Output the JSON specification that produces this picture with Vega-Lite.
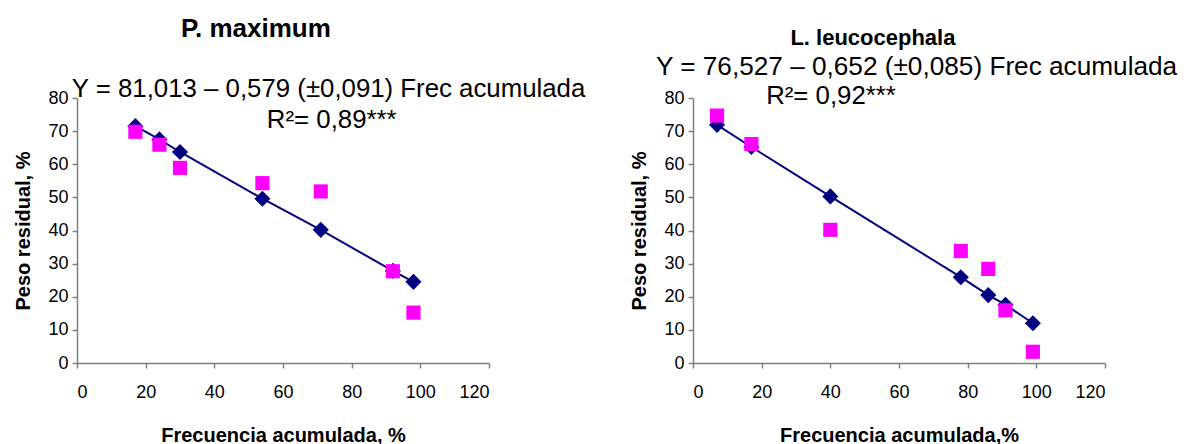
{
  "$schema": "https://vega.github.io/schema/vega-lite/v6.json",
  "background": "white",
  "padding": {"left": 13, "top": 16, "right": 5, "bottom": 5},
  "spacing": 43,
  "config": {
    "view": {"stroke": null},
    "font": "Liberation Sans",
    "axis": {
      "grid": false,
      "domainColor": "#808080",
      "tickColor": "#808080",
      "domainWidth": 1.5,
      "tickWidth": 1.5,
      "labelColor": "#000000",
      "titleColor": "#000000",
      "labelFont": "Liberation Sans",
      "titleFont": "Liberation Sans",
      "labelFontSize": 18,
      "labelFontWeight": "normal",
      "labelOverlap": false,
      "titleFontSize": 20,
      "titleFontWeight": "bold",
      "tickSize": 5,
      "labelPadding": 4
    },
    "text": {"font": "Liberation Sans", "fontWeight": "normal"}
  },
  "datasets": {
    "pmax": [
      {"frec": 17, "ajustado": 71.5, "observado": 69.8},
      {"frec": 24, "ajustado": 67.5, "observado": 65.9},
      {"frec": 30, "ajustado": 63.7, "observado": 58.9},
      {"frec": 54, "ajustado": 49.6, "observado": 54.3},
      {"frec": 71, "ajustado": 40.2, "observado": 51.8},
      {"frec": 92, "ajustado": 27.8, "observado": 27.7},
      {"frec": 98, "ajustado": 24.5, "observado": 15.2}
    ],
    "lleu": [
      {"frec": 7, "ajustado": 71.9, "observado": 74.7},
      {"frec": 17, "ajustado": 65.2, "observado": 66.1},
      {"frec": 40, "ajustado": 50.3, "observado": 40.2},
      {"frec": 78, "ajustado": 25.9, "observado": 33.8},
      {"frec": 86, "ajustado": 20.5, "observado": 28.4},
      {"frec": 91, "ajustado": 17.6, "observado": 15.9},
      {"frec": 99, "ajustado": 12.0, "observado": 3.4}
    ],
    "uno": [{}]
  },
  "hconcat": [
    {
      "width": 412,
      "height": 265,
      "data": {"name": "pmax"},
      "encoding": {
        "x": {"type": "quantitative", "title": "Frecuencia  acumulada, %",
              "scale": {"domain": [0, 120], "nice": false},
              "axis": {"values": [0, 20, 40, 60, 80, 100, 120], "labelPadding": 15, "titlePadding": 24}},
        "y": {"type": "quantitative", "title": "Peso residual, %",
              "scale": {"domain": [0, 80], "nice": false},
              "axis": {"values": [0, 10, 20, 30, 40, 50, 60, 70, 80], "titlePadding": 14}}
      },
      "layer": [
        {
          "mark": {"type": "line", "color": "#000080", "strokeWidth": 2},
          "encoding": {"x": {"field": "frec"}, "y": {"field": "ajustado"}}
        },
        {
          "mark": {"type": "point", "shape": "diamond", "filled": true, "size": 260, "color": "#000080", "opacity": 1},
          "encoding": {"x": {"field": "frec"}, "y": {"field": "ajustado"}}
        },
        {
          "mark": {"type": "point", "shape": "square", "filled": true, "size": 200, "color": "#FF00FF", "opacity": 1},
          "encoding": {"x": {"field": "frec"}, "y": {"field": "observado"}}
        },
        {
          "data": {"name": "uno"},
          "mark": {"type": "text", "text": "P. maximum", "fontSize": 26, "fontWeight": "bold", "align": "center", "baseline": "alphabetic", "color": "#000000"},
          "encoding": {"x": {"datum": 52.1}, "y": {"datum": 98.3}}
        },
        {
          "data": {"name": "uno"},
          "mark": {"type": "text", "text": "Y = 81,013 – 0,579 (±0,091) Frec acumulada", "fontSize": 25.8, "fontWeight": "normal", "align": "left", "baseline": "alphabetic", "color": "#000000"},
          "encoding": {"x": {"datum": -1.5}, "y": {"datum": 80.3}}
        },
        {
          "data": {"name": "uno"},
          "mark": {"type": "text", "text": "R²= 0,89***", "fontSize": 25.8, "fontWeight": "normal", "align": "left", "baseline": "alphabetic", "color": "#000000"},
          "encoding": {"x": {"datum": 55.3}, "y": {"datum": 71.0}}
        }
      ]
    },
    {
      "width": 412,
      "height": 265,
      "data": {"name": "lleu"},
      "encoding": {
        "x": {"type": "quantitative", "title": "Frecuencia acumulada,%",
              "scale": {"domain": [0, 120], "nice": false},
              "axis": {"values": [0, 20, 40, 60, 80, 100, 120], "labelPadding": 15, "titlePadding": 24}},
        "y": {"type": "quantitative", "title": "Peso residual, %",
              "scale": {"domain": [0, 80], "nice": false},
              "axis": {"values": [0, 10, 20, 30, 40, 50, 60, 70, 80], "titlePadding": 14}}
      },
      "layer": [
        {
          "mark": {"type": "line", "color": "#000080", "strokeWidth": 2},
          "encoding": {"x": {"field": "frec"}, "y": {"field": "ajustado"}}
        },
        {
          "mark": {"type": "point", "shape": "diamond", "filled": true, "size": 260, "color": "#000080", "opacity": 1},
          "encoding": {"x": {"field": "frec"}, "y": {"field": "ajustado"}}
        },
        {
          "mark": {"type": "point", "shape": "square", "filled": true, "size": 200, "color": "#FF00FF", "opacity": 1},
          "encoding": {"x": {"field": "frec"}, "y": {"field": "observado"}}
        },
        {
          "data": {"name": "uno"},
          "mark": {"type": "text", "text": "L. leucocephala", "fontSize": 22, "fontWeight": "bold", "align": "center", "baseline": "alphabetic", "color": "#000000"},
          "encoding": {"x": {"datum": 52.4}, "y": {"datum": 96.0}}
        },
        {
          "data": {"name": "uno"},
          "mark": {"type": "text", "text": "Y = 76,527 – 0,652  (±0,085) Frec acumulada", "fontSize": 26.2, "fontWeight": "normal", "align": "left", "baseline": "alphabetic", "color": "#000000"},
          "encoding": {"x": {"datum": -10.8}, "y": {"datum": 87.0}}
        },
        {
          "data": {"name": "uno"},
          "mark": {"type": "text", "text": "R²= 0,92***", "fontSize": 25.8, "fontWeight": "normal", "align": "left", "baseline": "alphabetic", "color": "#000000"},
          "encoding": {"x": {"datum": 21.3}, "y": {"datum": 78.3}}
        }
      ]
    }
  ]
}
